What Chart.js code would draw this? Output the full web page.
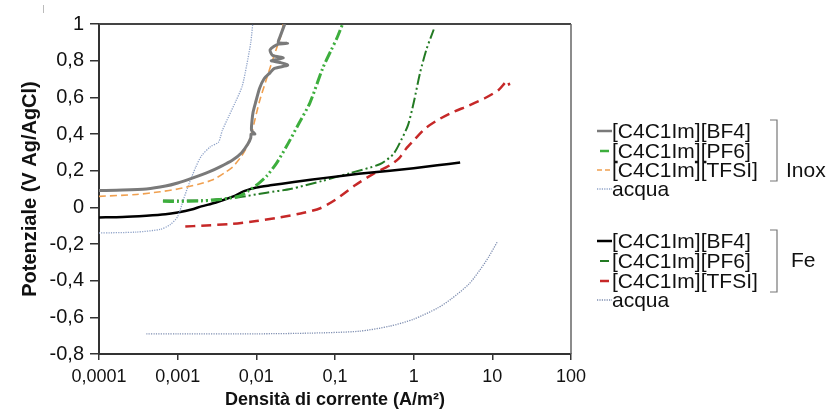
<!DOCTYPE html>
<html>
<head>
<meta charset="utf-8">
<script src="https://cdn.jsdelivr.net/npm/chart.js@4/dist/chart.umd.min.js"></script>
<style>
  html, body { margin: 0; padding: 0; background: #fff; }
  #wrap { width: 830px; height: 412px; }
</style>
</head>
<body>
<div id="wrap"><canvas id="c" width="830" height="412"></canvas></div>
<script>
// ---- data (x = current density A/m2, y = potential V Ag/AgCl) ----
const xTickValues = [0.0001, 0.001, 0.01, 0.1, 1, 10, 100];
const xTickLabels = ["0,0001", "0,001", "0,01", "0,1", "1", "10", "100"];
const yTickValues = [-0.8, -0.6, -0.4, -0.2, 0, 0.2, 0.4, 0.6, 0.8, 1];
const yTickLabels = ["-0,8", "-0,6", "-0,4", "-0,2", "0", "0,2", "0,4", "0,6", "0,8", "1"];

const seriesNames = ["[C4C1Im][BF4]", "[C4C1Im][PF6]", "[C4C1Im][TFSI]", "acqua"];
const groupNames = ["Inox", "Fe"];

const inoxBF4 = [[0.0001,0.092],[0.0002,0.094],[0.0004,0.1],[0.0007,0.116],[0.001,0.133],[0.0015,0.158],[0.0025,0.193],[0.0035,0.222],[0.005,0.258],[0.0065,0.298],[0.0078,0.345],[0.0085,0.38],[0.0086,0.4],[0.0096,0.4],[0.0087,0.42],[0.0088,0.47],[0.0091,0.52],[0.0099,0.58],[0.011,0.65],[0.0125,0.7],[0.015,0.735],[0.017,0.758],[0.025,0.775],[0.02,0.79],[0.0155,0.8],[0.022,0.815],[0.016,0.83],[0.015,0.86],[0.019,0.89],[0.025,0.895],[0.019,0.9],[0.02,0.93],[0.023,1.0]];
const inoxPF6 = [[0.00065,0.033],[0.001,0.032],[0.002,0.035],[0.003,0.04],[0.0045,0.05],[0.0062,0.062],[0.008,0.09],[0.011,0.135],[0.0135,0.17],[0.018,0.24],[0.024,0.33],[0.035,0.46],[0.048,0.57],[0.07,0.76],[0.09,0.86],[0.105,0.92],[0.125,1.0]];
const inoxTFSI = [[0.0001,0.06],[0.0003,0.07],[0.0006,0.085],[0.001,0.1],[0.0018,0.125],[0.0028,0.15],[0.004,0.19],[0.005,0.22],[0.0065,0.28],[0.0076,0.33],[0.0088,0.41],[0.0095,0.47],[0.011,0.58],[0.013,0.68],[0.016,0.8],[0.0185,0.88],[0.021,0.95],[0.022,1.0]];
const inoxAcqua = [[0.0001,-0.14],[0.0003,-0.135],[0.0006,-0.12],[0.0008,-0.095],[0.001,-0.05],[0.0012,0.05],[0.0014,0.13],[0.0017,0.22],[0.002,0.28],[0.0026,0.33],[0.0033,0.355],[0.0035,0.385],[0.0037,0.42],[0.0045,0.5],[0.0055,0.58],[0.0066,0.66],[0.0075,0.77],[0.0085,0.9],[0.009,1.0]];
const feBF4 = [[0.0001,-0.055],[0.0002,-0.053],[0.0004,-0.046],[0.0007,-0.038],[0.001,-0.028],[0.0015,-0.012],[0.002,0.005],[0.003,0.025],[0.005,0.058],[0.007,0.088],[0.01,0.108],[0.015,0.12],[0.03,0.138],[0.08,0.162],[0.2,0.183],[0.5,0.2],[1,0.213],[2,0.229],[3.9,0.245]];
const fePF6 = [[0.00065,0.037],[0.001,0.037],[0.002,0.038],[0.0035,0.045],[0.006,0.055],[0.0135,0.08],[0.027,0.1],[0.07,0.145],[0.15,0.185],[0.37,0.235],[0.55,0.29],[0.7,0.37],[0.85,0.45],[1.0,0.57],[1.2,0.73],[1.45,0.86],[1.8,0.97]];
const feTFSI = [[0.00125,-0.105],[0.002,-0.1],[0.005,-0.09],[0.01,-0.075],[0.02,-0.055],[0.04,-0.03],[0.065,-0.005],[0.1,0.04],[0.18,0.12],[0.3,0.18],[0.5,0.23],[0.66,0.27],[0.8,0.32],[1.0,0.365],[1.4,0.43],[2,0.475],[3,0.515],[5,0.555],[8,0.595],[12,0.64],[15.5,0.69],[16.5,0.665]];
const feAcqua = [[0.0004,-0.69],[0.001,-0.69],[0.01,-0.69],[0.05,-0.686],[0.2,-0.676],[0.5,-0.648],[1,-0.61],[2,-0.55],[3,-0.5],[5,-0.42],[7,-0.34],[9,-0.27],[11.5,-0.19]];

const toPts = arr => arr.map(p => ({x: p[0], y: p[1]}));

const styles = [
  {color: '#7a7a7a', width: 3,   dash: []},                 // Inox BF4
  {color: '#3dae3d', width: 3,   dash: [11,3,2,3,2,3]},     // Inox PF6
  {color: '#f0a050', width: 1.6, dash: [7,4]},              // Inox TFSI
  {color: '#8ea2c8', width: 1.3, dash: [1.2,1.2]},          // Inox acqua
  {color: '#000000', width: 2.5, dash: []},                 // Fe BF4
  {color: '#237a23', width: 2,   dash: [11,3,2,3,2,3]},     // Fe PF6
  {color: '#c62828', width: 2.5, dash: [10,6]},             // Fe TFSI
  {color: '#7d8db0', width: 1.3, dash: [1.2,1.2]}           // Fe acqua
];
const allSeries = [inoxBF4, inoxPF6, inoxTFSI, inoxAcqua, feBF4, fePF6, feTFSI, feAcqua];

const datasets = allSeries.map((s, i) => ({
  label: groupNames[i < 4 ? 0 : 1] + ' ' + seriesNames[i % 4],
  data: toPts(s),
  showLine: true,
  borderColor: styles[i].color,
  backgroundColor: styles[i].color,
  borderWidth: styles[i].width,
  borderDash: styles[i].dash,
  pointRadius: 0,
  tension: 0.25,
  fill: false
}));

const FONT = '"Liberation Sans", Arial, sans-serif';

const framePlugin = {
  id: 'frame',
  beforeDatasetsDraw(chart) {
    const {ctx, chartArea: a} = chart;
    ctx.save();
    ctx.strokeStyle = '#444';
    ctx.lineWidth = 2;
    ctx.beginPath();
    ctx.moveTo(a.left, a.top); ctx.lineTo(a.right, a.top);
    ctx.stroke();
    ctx.strokeStyle = '#666';
    ctx.lineWidth = 1.5;
    ctx.beginPath();
    ctx.moveTo(a.right, a.top); ctx.lineTo(a.right, a.bottom);
    ctx.stroke();
    // small mark at the top-left corner
    ctx.strokeStyle = '#bbb'; ctx.lineWidth = 1;
    ctx.beginPath(); ctx.moveTo(43.5, 5); ctx.lineTo(43.5, 13); ctx.stroke();
    ctx.restore();
  }
};

const legendPlugin = {
  id: 'customLegend',
  afterDraw(chart) {
    const ctx = chart.ctx;
    const ds = chart.data.datasets;
    const rowsY = [131, 151, 170, 189, 241, 261, 281, 300];
    ctx.save();
    ctx.font = '21px ' + FONT;
    ctx.textBaseline = 'middle';
    ctx.fillStyle = '#111';
    ds.forEach((d, i) => {
      const y = rowsY[i];
      const k = i % 4;
      ctx.save();
      ctx.strokeStyle = d.borderColor;
      ctx.lineWidth = Math.max(1.3, Math.min(d.borderWidth, 2.5));
      let dash = [];
      if (i === 2) dash = [5, 3];
      if (k === 3) dash = [1.2, 1.2];
      ctx.setLineDash(dash);
      const short = (k === 1) || (i === 6);
      const x1 = short ? 600 : 597;
      const x2 = short ? 609 : 612;
      ctx.beginPath();
      ctx.moveTo(x1, y); ctx.lineTo(x2, y);
      ctx.stroke();
      ctx.restore();
      ctx.fillText(seriesNames[k], 612, y + 1);
    });
    // brackets
    ctx.strokeStyle = '#777';
    ctx.lineWidth = 1.2;
    const brackets = [[120, 181], [230, 292]];
    brackets.forEach(b => {
      ctx.beginPath();
      ctx.moveTo(770, b[0]); ctx.lineTo(777, b[0]); ctx.lineTo(777, b[1]); ctx.lineTo(770, b[1]);
      ctx.stroke();
    });
    ctx.fillText(groupNames[0], 786, 171);
    ctx.fillText(groupNames[1], 791, 261);
    ctx.restore();
  }
};

new Chart(document.getElementById('c'), {
  type: 'scatter',
  data: {datasets},
  options: {
    responsive: false,
    animation: false,
    devicePixelRatio: 1,
    layout: {padding: {top: 24, right: 259, left: 0, bottom: 0}},
    plugins: {legend: {display: false}, tooltip: {enabled: false}},
    scales: {
      x: {
        type: 'logarithmic',
        min: 0.0001, max: 100,
        afterBuildTicks: s => { s.ticks = xTickValues.map(v => ({value: v})); },
        afterFit: s => { s.height = 58; },
        ticks: {
          callback: (v, i) => xTickLabels[i],
          font: {family: FONT, size: 18}, color: '#111',
          maxRotation: 0, autoSkip: false, padding: 6
        },
        grid: {drawOnChartArea: false, drawTicks: true, tickLength: 6, color: '#333', lineWidth: 1.5},
        border: {color: '#333', width: 2},
        title: {display: true, text: 'Densità di corrente (A/m²)', font: {family: FONT, size: 18, weight: 'bold'}, color: '#111', padding: {top: 0, bottom: 1}}
      },
      y: {
        type: 'linear',
        min: -0.8, max: 1,
        afterBuildTicks: s => { s.ticks = yTickValues.map(v => ({value: v})); },
        afterFit: s => { s.width = 99; },
        ticks: {
          callback: (v, i) => yTickLabels[i],
          font: {family: FONT, size: 20}, color: '#111', padding: 6
        },
        grid: {drawOnChartArea: false, drawTicks: true, tickLength: 9, color: '#333', lineWidth: 1.5},
        border: {color: '#333', width: 2},
        title: {display: true, text: 'Potenziale (V Ag/AgCl)', font: {family: FONT, size: 20, weight: 'bold'}, color: '#111', padding: {top: 18, bottom: 0}}
      }
    }
  },
  plugins: [framePlugin, legendPlugin]
});
</script>
</body>
</html>
